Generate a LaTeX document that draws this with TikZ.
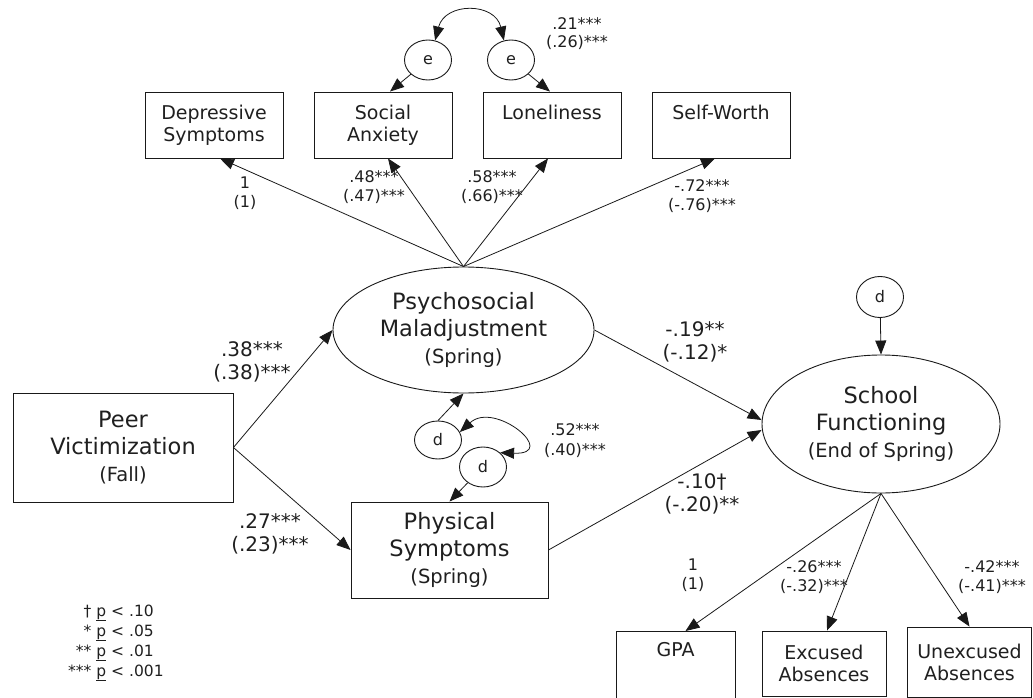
\documentclass[tikz,border=0pt]{standalone}
\usepackage{fontspec}
\setmainfont{DejaVu Sans}
\usetikzlibrary{arrows.meta,shapes.geometric,calc}
\begin{document}
\begin{tikzpicture}[x=1pt,y=-1pt,
  ink/.style={draw=black!90, line width=0.9pt},
  box/.style={ink, rectangle, inner sep=0pt, align=center, text=black!88,
    font=\fontsize{19}{22}\selectfont},
  mainbox/.style={ink, rectangle, inner sep=0pt, align=center, text=black!88,
    font=\fontsize{22.5}{27}\selectfont},
  lat/.style={ink, ellipse, inner sep=0pt, align=center, text=black!88,
    font=\fontsize{22.5}{27}\selectfont},
  err/.style={ink, ellipse, inner sep=0pt, minimum width=47pt, minimum height=40pt,
    text=black!88, font=\fontsize{16}{18}\selectfont},
  arr/.style={-{Triangle[length=14pt,width=11pt]}, line width=0.8pt, draw=black!90},
  darr/.style={{Triangle[length=14pt,width=11pt]}-{Triangle[length=14pt,width=11pt]}, line width=0.8pt, draw=black!90},
  coefS/.style={align=center, inner sep=0pt, text=black!88, font=\fontsize{16}{19}\selectfont},
  coefL/.style={align=center, inner sep=0pt, text=black!88, font=\fontsize{20}{23}\selectfont}
]
\clip (0,0) rectangle (1033,698);

% indicator boxes (top)
\node[box, minimum width=138pt, minimum height=66pt] (dep) at (214,125) {Depressive\\Symptoms};
\node[box, minimum width=138pt, minimum height=66pt] (soc) at (383,125) {Social\\Anxiety};
\node[box, minimum width=138pt, minimum height=66pt] (lon) at (552,125) {Loneliness\\\phantom{Ly}};
\node[box, minimum width=138pt, minimum height=66pt] (sw) at (721,125) {Self-Worth\\\phantom{Ly}};

% error terms (top)
\node[err] (e1) at (428,60) {e};
\node[err] (e2) at (511,60) {e};

% latent variables
\node[lat, minimum width=261pt, minimum height=126pt] (psy) at (463.5,330)
  {Psychosocial\\Maladjustment\\{\fontsize{19.5}{23}\selectfont (Spring)}};
\node[lat, minimum width=238pt, minimum height=138pt] (school) at (881,424)
  {School\\Functioning\\{\fontsize{19.5}{23}\selectfont (End of Spring)}};

% observed main variables
\node[mainbox, minimum width=220pt, minimum height=109pt] (peer) at (123,447.5)
  {Peer\\Victimization\\{\fontsize{19.5}{23}\selectfont (Fall)}};
\node[mainbox, minimum width=197pt, minimum height=96pt] (phys) at (449.5,550)
  {Physical\\Symptoms\\{\fontsize{19.5}{23}\selectfont (Spring)}};

% disturbances
\node[err, minimum height=38pt] (d1) at (438,440) {d};
\node[err] (d2) at (483,467) {d};
\node[err, minimum height=41pt] (dtop) at (880,297) {d};

% indicator boxes (bottom)
\node[box, minimum width=119pt, minimum height=90pt, anchor=north] (gpa) at (675.5,631) {};
\node[inner sep=0pt, text=black!88, font=\fontsize{19}{22}\selectfont] (gpat) at (675.5,650) {GPA};
\node[box, minimum width=124pt, minimum height=65pt] (exc) at (824,663.5) {Excused\\Absences};
\node[box, minimum width=124pt, minimum height=70pt] (unx) at (969.5,662) {Unexcused\\Absences};

% measurement paths (top)
\draw[arr] (psy.north) -- ([xshift=6pt]dep.south);
\draw[arr] (psy.north) -- ([xshift=5pt]soc.south);
\draw[arr] (psy.north) -- ([xshift=-4pt]lon.south);
\draw[arr] (psy.north) -- ([xshift=-6pt]sw.south);
\draw[arr] (e1) -- ([xshift=7pt]soc.north);
\draw[arr] (e2) -- ([xshift=-2pt]lon.north);
\draw[darr] (e1.70) .. controls (445,2) and (495,2) .. (e2.110);

% structural paths
\draw[arr] (peer.east) -- (psy.west);
\draw[arr] (peer.east) -- (phys.west);
\draw[arr] (d1.north) -- (psy.south);
\draw[arr] (d2) -- (phys.north);
\draw[darr] (d1.20) .. controls (495,400) and (560,455) .. (d2.40);
\draw[arr] (psy.east) -- ([yshift=4pt]school.west);
\draw[arr] (phys.east) -- ([yshift=-6pt]school.west);
\draw[arr] (dtop) -- (school.north);

% measurement paths (bottom)
\draw[arr] (school.south) -- ([xshift=10pt]gpa.north);
\draw[arr] (school.south) -- ([xshift=3pt]exc.north);
\draw[arr] (school.south) -- (unx.north);

% coefficients
\node[coefS] (c1) at (245,193.5) {1\\(1)};
\node[coefS] (c2) at (374,187.5) {.48***\\(.47)***};
\node[coefS] (c3) at (492,187.5) {.58***\\(.66)***};
\node[coefS] (c4) at (702,196.5) {-.72***\\(-.76)***};
\node[coefS, font=\fontsize{16}{18}\selectfont] (c5) at (577,34) {.21***\\(.26)***};
\node[coefL] (c6) at (252,361.5) {.38***\\(.38)***};
\node[coefL] (c7) at (270,533.5) {.27***\\(.23)***};
\node[coefL] (c8) at (695,341.5) {-.19**\\(-.12)*};
\node[coefL] (c9) at (702,494) {-.10†\\(-.20)**};
\node[coefS, font=\fontsize{16}{20}\selectfont] (c10) at (575,441) {.52***\\(.40)***};
\node[coefS] (c11) at (693,575.5) {1\\(1)};
\node[coefS] (c12) at (814,577) {-.26***\\(-.32)***};
\node[coefS] (c13) at (992,577) {-.42***\\(-.41)***};

% legend
\node[anchor=west, inner sep=0pt, text=black!88, font=\fontsize{15.5}{20}\selectfont] (legend) at (68,642)
  {\begin{tabular}{@{}r@{\hspace{5pt}}l@{}}
   {†} & \underline{p} < .10\\
   {*} & \underline{p} < .05\\
   {**} & \underline{p} < .01\\
   {***} & \underline{p} < .001
   \end{tabular}};
\end{tikzpicture}
\end{document}
